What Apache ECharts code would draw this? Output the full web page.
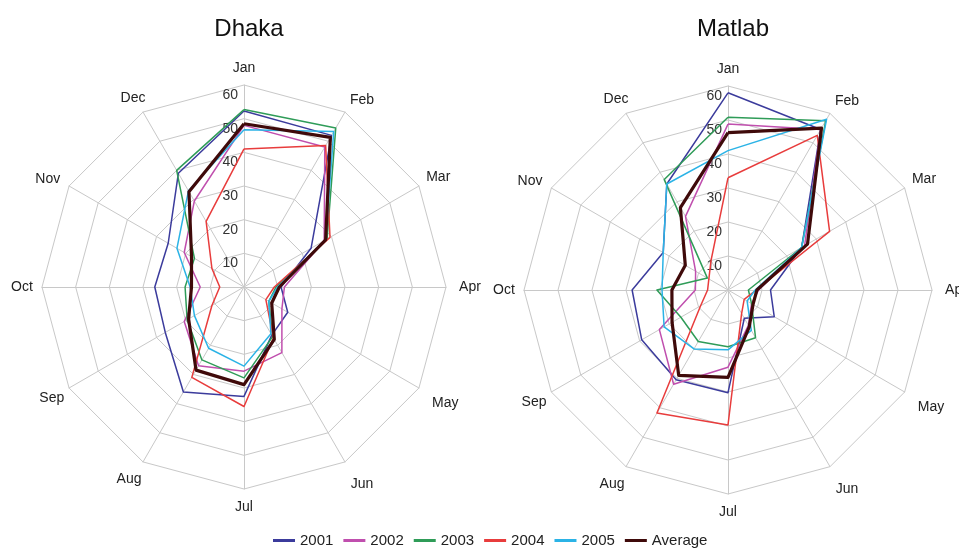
<!DOCTYPE html>
<html>
<head>
<meta charset="utf-8">
<script src="https://cdn.jsdelivr.net/npm/echarts@6/dist/echarts.min.js"></script>
<style>
  html, body { margin: 0; background: #fff; }
  #main { width: 959px; height: 548px; }
</style>
</head>
<body>
<div id="main"></div>
<script>
var months = ["Jan", "Feb", "Mar", "Apr", "May", "Jun", "Jul", "Aug", "Sep", "Oct", "Nov", "Dec"];
var years = ["2001", "2002", "2003", "2004", "2005", "Average"];
var ringLabels = ["10", "20", "30", "40", "50", "60"];

// Dhaka, Jan..Dec
var dhaka2001 = [52.3, 52, 23, 11, 15, 16.5, 32.5, 36, 27, 26.5, 26, 39];
var dhaka2002 = [48, 48, 27.5, 12, 13, 22.5, 25, 27, 20.5, 13, 20.5, 29.5];
var dhaka2003 = [52.7, 54.5, 28.5, 9.5, 8.5, 17, 27, 25, 19.5, 17.5, 17, 40];
var dhaka2004 = [41, 48.5, 29.5, 9, 7.5, 17.5, 35.5, 31, 11, 7.2, 11, 22.5];
var dhaka2005 = [46.7, 53.3, 28, 10, 8.5, 16, 23.5, 21, 17, 16, 23, 33];
var dhakaAvg = [48.5, 51.3, 28, 10.5, 9.5, 18, 29, 28.5, 19, 15.6, 18, 32.7];

// Matlab, Jan..Dec
var matlab2001 = [58, 54.5, 25, 12.5, 15.7, 9.6, 30.2, 30.5, 29.3, 28.2, 22, 36];
var matlab2002 = [48.8, 54.5, 26, 9, 8, 12, 22.7, 32, 23.3, 9.6, 11, 25];
var matlab2003 = [50.8, 57.5, 25, 6, 8, 16.2, 16.7, 17.5, 16, 20.9, 7, 37.5];
var matlab2004 = [33, 52.5, 34.5, 8.3, 5.5, 8, 39.7, 41.8, 9.3, 6, 6.5, 10];
var matlab2005 = [41, 58, 25, 8, 6.5, 13.7, 17.6, 20, 21.7, 19.4, 22, 36];
var matlabAvg = [46.3, 55, 27, 8.5, 8.5, 12.5, 25.7, 29, 19, 16.5, 14.5, 28];

var colors = ["#3b3b9c", "#c04fae", "#2f9c58", "#e83c3c", "#2bb3e6", "#3f0a0a"];
var font = "Liberation Sans, Arial, sans-serif";

// echarts lays radar indicators out anticlockwise, so walk the months backwards
var order = [0, 11, 10, 9, 8, 7, 6, 5, 4, 3, 2, 1];
function reorder(arr) {
  return order.map(function (i) { return arr[i]; });
}

// padding per month name so the labels sit like in the original
var namePad = {
  Jan: [6, 0, 0, 0], Feb: [10, 0, 0, 14], Mar: [2, 0, 0, 4], Apr: [0, 0, 0, 8],
  May: [10, 0, 0, 18], Jun: [10, 0, 0, 14], Jul: [0, 0, 4, 0], Aug: [0, 8, 0, 0],
  Nov: [6, 8, 0, 0], Dec: [6, 0, 0, 0]
};
var nameRich = {};
Object.keys(namePad).forEach(function (m) {
  nameRich[m] = { padding: namePad[m], fontSize: 14, fontFamily: font, color: "#222" };
});

function makeRadar(cx, cy, r) {
  var indicator = order.map(function (i, k) {
    var ind = { name: months[i], min: 0, max: 60 };
    if (k === 0) {
      ind.axisLabel = {
        show: true,
        color: "#333",
        fontSize: 14,
        fontFamily: font,
        margin: 6,
        verticalAlign: "top",
        padding: [3, 0, 0, 0],
        formatter: function (v) {
          var s = String(v);
          return ringLabels.indexOf(s) >= 0 ? s : "";
        }
      };
    }
    return ind;
  });
  return {
    center: [cx, cy],
    radius: r,
    startAngle: 90,
    splitNumber: 6,
    shape: "polygon",
    indicator: indicator,
    axisName: {
      color: "#222",
      fontSize: 14,
      fontFamily: font,
      align: "center",
      verticalAlign: "middle",
      formatter: function (name) {
        return nameRich[name] ? "{" + name + "|" + name + "}" : name;
      },
      rich: nameRich
    },
    nameGap: 20,
    axisLine: { lineStyle: { color: "#c8c8c8", width: 1 } },
    splitLine: { lineStyle: { color: "#c8c8c8", width: 1 } },
    splitArea: { show: false },
    axisTick: { show: false },
    axisLabel: { show: false }
  };
}

function makeSeries(radarIndex, rows) {
  return {
    type: "radar",
    radarIndex: radarIndex,
    symbol: "none",
    silent: true,
    data: rows.map(function (row, k) {
      return {
        name: years[k],
        value: reorder(row),
        lineStyle: { color: colors[k], width: k === 5 ? 3.2 : 1.5 },
        itemStyle: { color: colors[k] }
      };
    })
  };
}

var myChart = echarts.init(document.getElementById("main"));
var option = {
  backgroundColor: "#fff",
  animation: false,
  title: [
    { text: "Dhaka", left: 244, top: 12, textAlign: "center",
      textStyle: { fontSize: 24, fontWeight: "normal", color: "#111", fontFamily: font } },
    { text: "Matlab", left: 728, top: 12, textAlign: "center",
      textStyle: { fontSize: 24, fontWeight: "normal", color: "#111", fontFamily: font } }
  ],
  legend: {
    data: years,
    left: 268,
    bottom: -5,
    icon: "rect",
    itemWidth: 22,
    itemHeight: 3,
    itemGap: 10,
    textStyle: { fontSize: 15, color: "#222", fontFamily: font }
  },
  radar: [makeRadar(244, 287, 202), makeRadar(728, 290, 204)],
  series: [
    makeSeries(0, [dhaka2001, dhaka2002, dhaka2003, dhaka2004, dhaka2005, dhakaAvg]),
    makeSeries(1, [matlab2001, matlab2002, matlab2003, matlab2004, matlab2005, matlabAvg])
  ]
};
myChart.setOption(option);
</script>
</body>
</html>
